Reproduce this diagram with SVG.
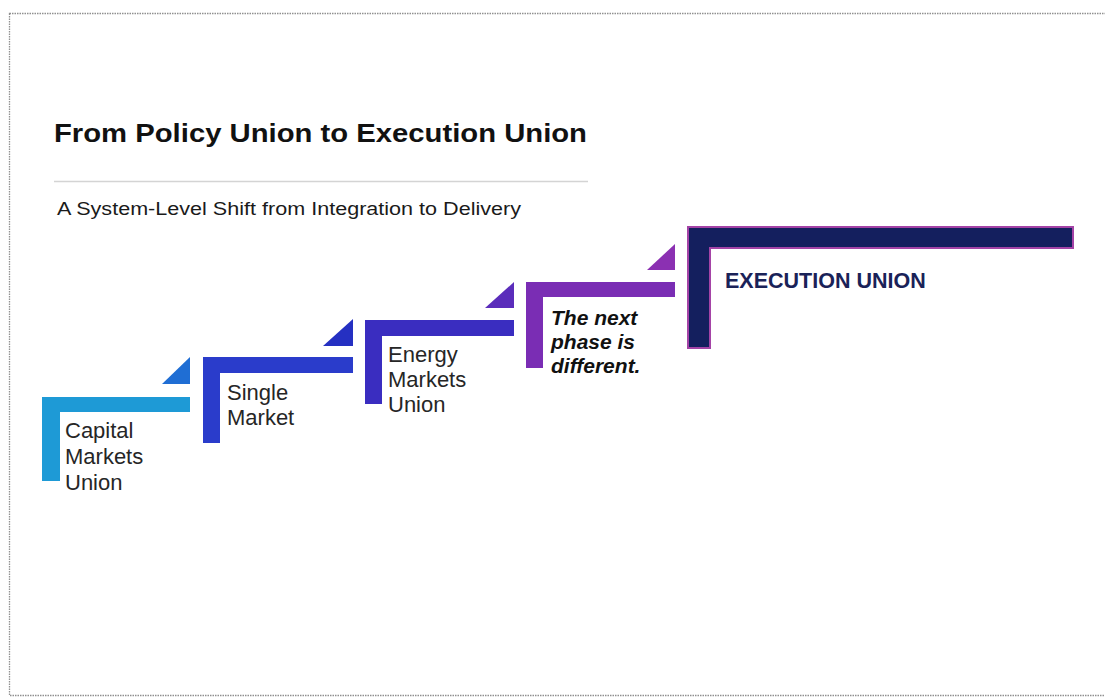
<svg xmlns="http://www.w3.org/2000/svg" width="1105" height="697" viewBox="0 0 1105 697">
  <style>
    .title { font-family: "Liberation Sans", Arial, sans-serif; font-weight: bold; fill: #111; }
    .sub { font-family: "Liberation Sans", Arial, sans-serif; fill: #1a1a1a; }
    .label { font-family: "Liberation Sans", Arial, sans-serif; font-size: 22px; fill: #262626; }
    .em { font-family: "Liberation Sans", Arial, sans-serif; font-size: 21px; font-weight: bold; font-style: italic; fill: #111; }
    .exec { font-family: "Liberation Sans", Arial, sans-serif; font-size: 21.5px; font-weight: bold; fill: #1a2258; }
  </style>

  <rect x="0" y="0" width="1105" height="697" fill="#ffffff"/>
  <!-- page frame -->
  <rect x="9.5" y="13.5" width="1120" height="682" fill="none" stroke="#909090" stroke-width="1.3" stroke-dasharray="1.5 1"/>

  <!-- heading -->
  <g id="heading">
    <text class="title" x="54" y="142" font-size="26" textLength="533" lengthAdjust="spacingAndGlyphs">From Policy Union to Execution Union</text>
    <line x1="54" y1="181.5" x2="588" y2="181.5" stroke="#d4d4d4" stroke-width="1.5"/>
    <text class="sub" x="57" y="215" font-size="17.5" textLength="464" lengthAdjust="spacingAndGlyphs">A System-Level Shift from Integration to Delivery</text>
  </g>

  <!-- step 1 -->
  <g id="capital-markets-union">
    <path d="M42,397 H190 V412 H60 V481 H42 Z" fill="#1E9AD6"/>
    <text class="label" x="65" y="438">Capital</text>
    <text class="label" x="65" y="464">Markets</text>
    <text class="label" x="65" y="490">Union</text>
  </g>

  <!-- step 2 -->
  <g id="single-market">
    <path d="M203,357 H353 V373 H220 V443 H203 Z" fill="#2A3CCB"/>
    <text class="label" x="227" y="400">Single</text>
    <text class="label" x="227" y="425">Market</text>
  </g>

  <!-- step 3 -->
  <g id="energy-markets-union">
    <path d="M365,320 H514 V336 H382 V404 H365 Z" fill="#3A2DC0"/>
    <text class="label" x="388" y="362">Energy</text>
    <text class="label" x="388" y="387">Markets</text>
    <text class="label" x="388" y="412">Union</text>
  </g>

  <!-- step 4 -->
  <g id="next-phase">
    <path d="M526,282 H675 V297 H543 V368 H526 Z" fill="#7A2DB4"/>
    <text class="em" x="551" y="325">The next</text>
    <text class="em" x="551" y="349">phase is</text>
    <text class="em" x="551" y="373">different.</text>
  </g>

  <!-- step 5 -->
  <g id="execution-union">
    <path d="M688,227 H1073 V248 H710 V348 H688 Z" fill="#141F5E" stroke="#A443A6" stroke-width="2"/>
    <text class="exec" x="725" y="288">EXECUTION UNION</text>
  </g>

  <!-- step pointers -->
  <g id="connectors">
    <polygon points="162,384 190,384 190,357" fill="#1F6ED4"/>
    <polygon points="323,346 353,346 353,319" fill="#2530C2"/>
    <polygon points="485,308 514,308 514,282" fill="#5B2DBB"/>
    <polygon points="647,270 675,270 675,244" fill="#8B30B2"/>
  </g>
</svg>
